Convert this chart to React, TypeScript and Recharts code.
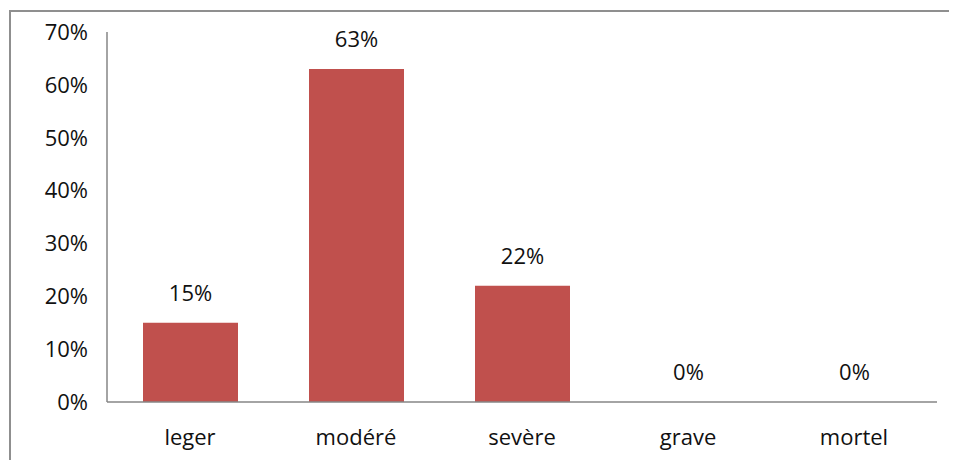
import { Bar, BarChart, LabelList, XAxis, YAxis } from 'recharts'

const categories = ['leger', 'modéré', 'sevère', 'grave', 'mortel']
const shares = [0.15, 0.63, 0.22, 0, 0]
const yTicks = [0, 0.1, 0.2, 0.3, 0.4, 0.5, 0.6, 0.7]

const data = categories.map((name, i) => ({ name, share: shares[i] }))

const FONT = '"Open Sans", "Noto Sans", sans-serif'
const AXIS_GRAY = '#868686'
const TEXT = '#111111'

const pct = (v: number) => `${Math.round(v * 100)}%`

// value above each bar, also for the empty (0%) categories
const renderValue = (props: any) => {
  const { x, y, width, value } = props
  return (
    <text
      x={Number(x) + Number(width) / 2}
      y={Number(y) - 22}
      textAnchor="middle"
      fill={TEXT}
      fontSize={22}
      fontFamily={FONT}
    >
      {pct(Number(value))}
    </text>
  )
}

export default function App() {
  return (
    <div
      style={{
        position: 'relative',
        width: 957,
        height: 468,
        margin: -8,
        overflow: 'hidden',
        background: '#fff',
        fontFamily: FONT,
      }}
    >
      <div
        style={{
          position: 'absolute',
          left: 9,
          top: 10,
          width: 1000,
          height: 500,
          border: '2px solid #8f8f8f',
          boxSizing: 'border-box',
        }}
      />
      <div style={{ position: 'absolute', left: 0, top: 0 }}>
        <BarChart
          width={957}
          height={468}
          data={data}
          margin={{ top: 32, right: 20, bottom: 0, left: 0 }}
        >
          <XAxis
            dataKey="name"
            height={66}
            axisLine={{ stroke: AXIS_GRAY, strokeWidth: 1.5 }}
            tickLine={false}
            tickSize={0}
            tickMargin={27}
            tick={{ fill: TEXT, fontSize: 22, fontFamily: FONT }}
          />
          <YAxis
            width={107}
            domain={[0, 0.7]}
            ticks={yTicks}
            tickFormatter={pct}
            axisLine={{ stroke: AXIS_GRAY, strokeWidth: 1.5 }}
            tickLine={false}
            tickSize={0}
            tickMargin={19}
            tick={{ fill: TEXT, fontSize: 22, fontFamily: FONT }}
          />
          <Bar
            dataKey="share"
            fill="#C0504D"
            barSize={95}
            minPointSize={0.01}
            isAnimationActive={false}
          >
            <LabelList dataKey="share" content={renderValue} />
          </Bar>
        </BarChart>
      </div>
    </div>
  )
}
